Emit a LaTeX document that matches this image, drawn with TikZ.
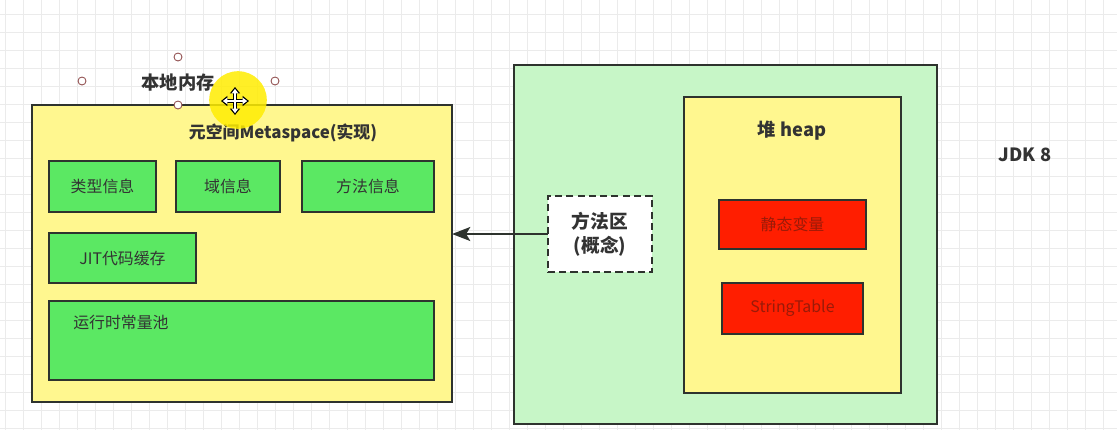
\documentclass[tikz,border=0pt]{standalone}
\usepackage{fontspec}
\setmainfont{Noto Sans CJK SC}
\usetikzlibrary{arrows.meta}
\definecolor{memyellow}{HTML}{FFF78F}
\definecolor{infogreen}{HTML}{5BE863}
\definecolor{jvmgreen}{HTML}{C7F6C7}
\definecolor{heapred}{HTML}{FF1E00}
\definecolor{darkline}{HTML}{2E332E}
\definecolor{labeltext}{HTML}{333333}
\definecolor{redtext}{HTML}{9A1A08}
\definecolor{handlered}{HTML}{8E4A4A}
\tikzset{
  box/.style={draw=darkline,line width=1.3pt,inner sep=0pt,outer sep=0pt,
    text=labeltext,font=\fontsize{11.3pt}{13pt}\selectfont},
  yellowbox/.style={box,fill=memyellow},
  infobox/.style={box,fill=infogreen},
  redbox/.style={box,fill=heapred,text=redtext},
  title/.style={text=labeltext,font=\fontsize{12pt}{14pt}\selectfont\bfseries},
  gridline/.style={draw=black!8,line width=0.4pt},
  handle/.style={draw=handlered,fill=white,line width=0.6pt},
  movearrow/.style={line width=2.4pt,{Triangle[length=4.5pt,width=7pt]}-{Triangle[length=4.5pt,width=7pt]}}
}
\begin{document}
\begin{tikzpicture}[x=0.025cm,y=-0.025cm]
\useasboundingbox[fill=white] (0,0) rectangle (1117,430);
\foreach \gx in {5,23,...,1117}
  \draw[gridline] (\gx,0) -- (\gx,430);
\foreach \gy in {14,32,...,430}
  \draw[gridline] (0,\gy) -- (1117,\gy);
% metaspace
\node[yellowbox,minimum width=10.5cm,minimum height=7.425cm] (meta) at (242,253.5) {};
\node[title] (metatitle) at (283,133) {元空间Metaspace(实现)};
\node[infobox,minimum width=2.675cm,minimum height=1.275cm] (typeinfo) at (102.5,186.5) {类型信息};
\node[infobox,minimum width=2.6cm,minimum height=1.275cm] (fieldinfo) at (228,186.5) {域信息};
\node[infobox,minimum width=3.3cm,minimum height=1.275cm] (methodinfo) at (368,186.5) {方法信息};
\node[infobox,minimum width=3.675cm,minimum height=1.25cm] (jit) at (122.5,258) {JIT代码缓存};
\node[infobox,minimum width=9.625cm,minimum height=1.975cm] (pool) at (241.5,340.5) {};
\node[text=labeltext,font=\fontsize{11.3pt}{13pt}\selectfont,anchor=west,inner sep=0pt] (pooltext) at (73,322) {运行时常量池};
% jvm side
\node[box,fill=jvmgreen,minimum width=10.575cm,minimum height=8.975cm] (jvm) at (725.5,244.5) {};
\node[yellowbox,minimum width=5.425cm,minimum height=7.4cm] (heap) at (792.5,245) {};
\node[title,font=\fontsize{13pt}{15pt}\selectfont\bfseries] (heaptitle) at (792,131) {堆 heap};
\node[redbox,minimum width=3.675cm,minimum height=1.225cm] (staticvar) at (792.5,224.5) {静态变量};
\node[redbox,minimum width=3.525cm,minimum height=1.275cm] (strtable) at (792.5,308.5) {StringTable};
\node[box,fill=white,dashed,dash pattern=on 5pt off 3pt,minimum width=2.6cm,minimum height=1.9cm,
  align=center,font=\fontsize{13.3pt}{17pt}\selectfont\bfseries] (methodarea) at (600,234) {方法区\\(概念)};
\draw[darkline,line width=1.3pt,-{Stealth[length=13pt,width=10pt,inset=3pt]}]
  (methodarea.west) -- (methodarea.west -| meta.east);
\node[title,font=\fontsize{13pt}{15pt}\selectfont\bfseries] (jdk) at (1025,155) {JDK 8};
% native memory label with selection
\node[title,font=\fontsize{13pt}{15pt}\selectfont\bfseries] (native) at (178,83) {本地内存};
\fill[yellow!95!orange,opacity=0.85] (238,100) circle (0.72cm);
\foreach \hx/\hy in {82/81,178/57,275/81,178/105}
  \draw[handle] (\hx,\hy) circle (0.1cm);
\draw[black,movearrow] (221,101) -- (249,101);
\draw[black,movearrow] (235,87) -- (235,115);
\draw[white,line width=1pt,{Triangle[length=3.2pt,width=4.5pt]}-{Triangle[length=3.2pt,width=4.5pt]}] (222.8,101) -- (247.2,101);
\draw[white,line width=1pt,{Triangle[length=3.2pt,width=4.5pt]}-{Triangle[length=3.2pt,width=4.5pt]}] (235,88.8) -- (235,113.2);
\end{tikzpicture}
\end{document}
